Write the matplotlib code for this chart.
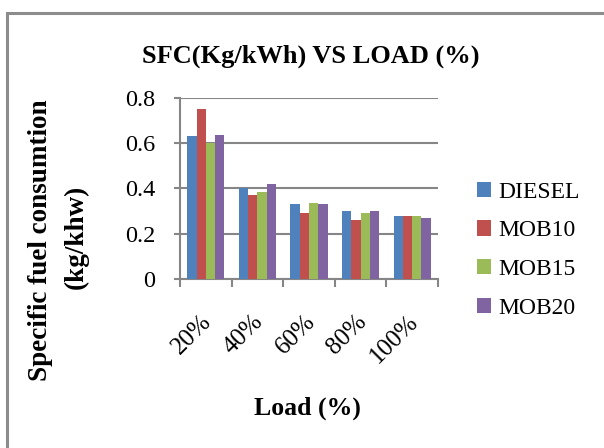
import matplotlib
matplotlib.use("Agg")
import matplotlib.pyplot as plt
import numpy as np
from matplotlib.patches import Rectangle

plt.rcParams['font.family'] = ['Liberation Serif', 'DejaVu Serif']

loads = ["20%", "40%", "60%", "80%", "100%"]
series_names = ["DIESEL", "MOB10", "MOB15", "MOB20"]
diesel = [0.63, 0.40, 0.33, 0.30, 0.28]
mob10 = [0.75, 0.37, 0.29, 0.26, 0.28]
mob15 = [0.60, 0.385, 0.335, 0.29, 0.28]
mob20 = [0.635, 0.42, 0.33, 0.30, 0.27]
colors = ["#4F81BD", "#C0504D", "#9BBB59", "#8064A2"]

W, H = 604, 448
fig = plt.figure(figsize=(W / 100, H / 100), dpi=100)

# outer chart frame
fig.patches.append(Rectangle((7.5 / W, -0.1), 1.2, (H - 13.5) / H + 0.1,
                             transform=fig.transFigure, fill=False,
                             edgecolor="#8c8c8c", linewidth=2.2))

ax = fig.add_axes([180 / W, 1 - 279 / H, (438 - 180) / W, (279 - 98) / H])

x = np.arange(len(loads))
bw = 0.18
data = [diesel, mob10, mob15, mob20]
for i, (name, vals, c) in enumerate(zip(series_names, data, colors)):
    ax.bar(x + (i - 1.5) * bw, vals, width=bw, color=c, label=name,
           edgecolor="none", zorder=3)

ax.set_xlim(-0.5, len(loads) - 0.5)
ax.set_ylim(0, 0.8)
ax.set_yticks([0, 0.2, 0.4, 0.6, 0.8])
ax.set_yticklabels(["0", "0.2", "0.4", "0.6", "0.8"])
ax.grid(axis="y", color="#868686", linewidth=1.5, zorder=0)
ax.set_axisbelow(True)

for s in ["top", "right"]:
    ax.spines[s].set_visible(False)
for s in ["left", "bottom"]:
    ax.spines[s].set_color("#868686")
    ax.spines[s].set_linewidth(1.5)

ax.tick_params(axis="y", direction="out", length=4, width=1.5,
               color="#868686", labelsize=17.5, pad=14)
# category boundary ticks on x
ax.set_xticks(np.arange(-0.5, len(loads), 1.0))
ax.set_xticklabels([])
ax.tick_params(axis="x", direction="out", length=6, width=1.5,
               color="#868686")
for xi, lab in zip(x, loads):
    ax.text(xi - 0.1, -0.175, lab, rotation=45, ha="right", va="top",
            fontsize=18, rotation_mode="anchor",
            transform=ax.get_xaxis_transform())

fig.text(311 / W, 1 - 56 / H, "SFC(Kg/kWh) VS LOAD (%)", ha="center",
         va="center", fontsize=19, fontweight="bold")
fig.text(307 / W, 1 - 408 / H, "Load (%)", ha="center", va="center",
         fontsize=18.5, fontweight="bold")
fig.text(41 / W, 1 - 240 / H, "Specific fuel consumtion", ha="center",
         va="center", rotation=90, fontsize=19.5, fontweight="bold")
fig.text(76 / W, 1 - 237 / H, "(kg/khw)", ha="center", va="center",
         rotation=90, fontsize=19.5, fontweight="bold")

leg = fig.legend(loc="upper left", bbox_to_anchor=(460 / W, 1 - 165 / H),
                 frameon=False, fontsize=17, handlelength=0.62,
                 handleheight=0.62, handletextpad=0.3, labelspacing=0.75,
                 borderpad=0.2)

fig.savefig("out.png", dpi=100)
